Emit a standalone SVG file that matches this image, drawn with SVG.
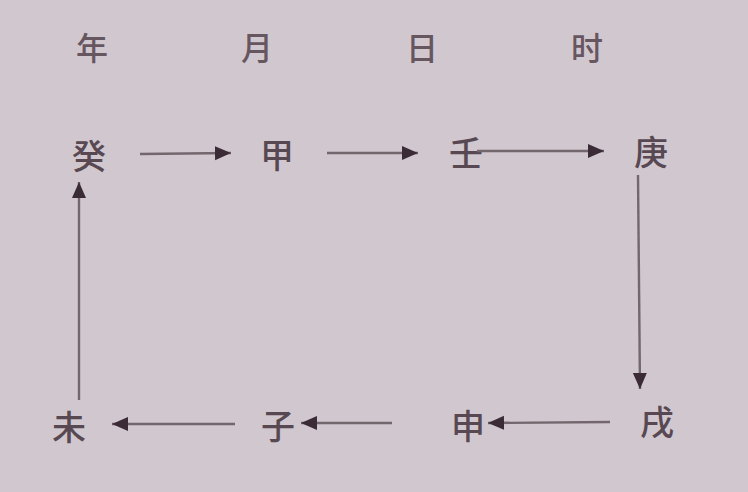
<svg xmlns="http://www.w3.org/2000/svg" width="748" height="492" viewBox="0 0 748 492">
<style>
.t{font-family:"Noto Sans CJK SC","Noto Sans CJK JP",sans-serif;font-size:34px;font-weight:500;fill:#574852;text-anchor:middle;dominant-baseline:central}
.h{font-size:32px;fill:#66565f}
.c{stroke:#74666d;stroke-width:2.4;fill:none;marker-end:url(#ah)}
</style>
<defs>
<marker id="ah" markerUnits="userSpaceOnUse" markerWidth="18" markerHeight="15" refX="16" refY="7" orient="auto">
<path d="M0,0 L16,7 L0,14 Z" fill="#3a2b36"/>
</marker>
</defs>
<rect width="748" height="492" fill="#d1c7cf"/>
<g id="header">
<text class="t h" x="92" y="46">年</text>
<text class="t h" x="257" y="46">月</text>
<text class="t h" x="422" y="46">日</text>
<text class="t h" x="587" y="46">时</text>
</g>
<g id="n-gui"><text class="t" x="89" y="154">癸</text></g>
<g id="n-jia"><text class="t" x="277" y="153">甲</text></g>
<g id="n-ren"><text class="t" x="466" y="151">壬</text></g>
<g id="n-geng"><text class="t" x="651" y="150">庚</text></g>
<g id="n-wei"><text class="t" x="69" y="425">未</text></g>
<g id="n-zi"><text class="t" x="278" y="424">子</text></g>
<g id="n-shen"><text class="t" x="468" y="424">申</text></g>
<g id="n-xu"><text class="t" x="657" y="420">戌</text></g>
<g id="connectors">
<line class="c" x1="140" y1="154" x2="231" y2="153"/>
<line class="c" x1="327" y1="153" x2="418" y2="153"/>
<line class="c" x1="477" y1="151" x2="604" y2="151"/>
<line class="c" x1="638" y1="175" x2="640" y2="389"/>
<line class="c" x1="610" y1="422" x2="488" y2="423"/>
<line class="c" x1="392" y1="423" x2="301" y2="423"/>
<line class="c" x1="235" y1="424" x2="112" y2="424"/>
<line class="c" x1="79" y1="400" x2="79" y2="182"/>
</g>
</svg>
